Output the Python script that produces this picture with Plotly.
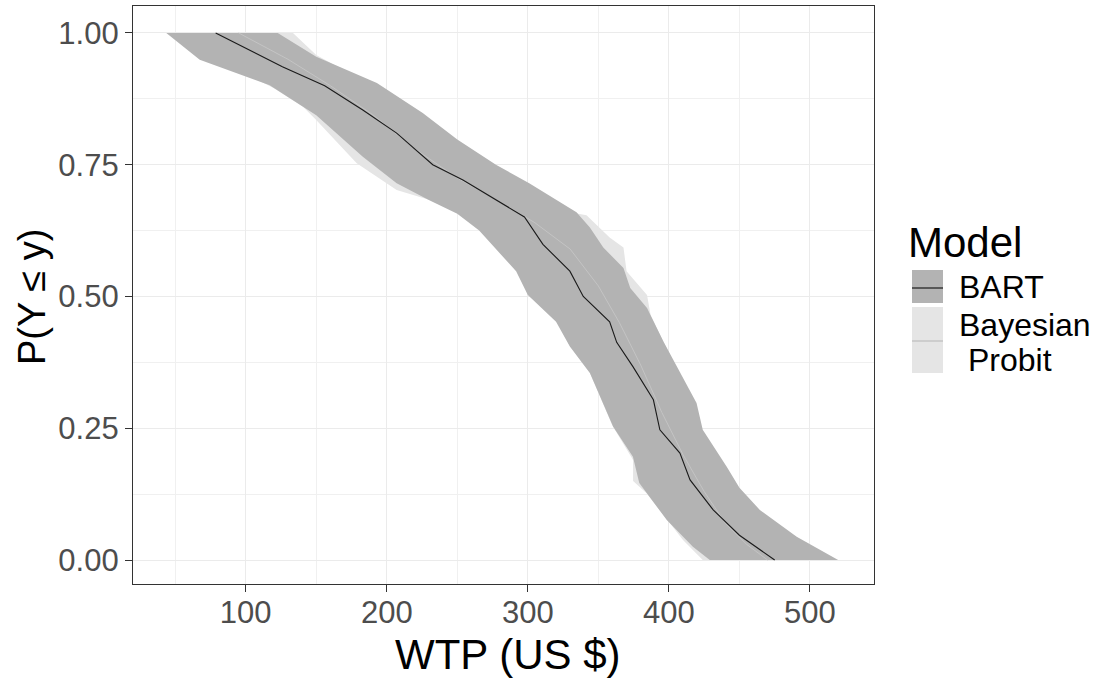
import plotly.graph_objects as go

# ---------------- data ----------------
# BART posterior CDF band: lower (left) edge and upper (right) edge
bart_lo_x = [43.7, 67.4, 117, 140.6, 150, 183, 207, 229.8, 250, 265.5, 291.7, 300, 320, 329.8, 344, 360.5, 374.5, 379, 398.5, 417, 429]
bart_lo_y = [1.0, 0.949, 0.901, 0.86, 0.844, 0.765, 0.715, 0.683, 0.657, 0.625, 0.548, 0.503, 0.452, 0.405, 0.355, 0.253, 0.196, 0.146, 0.076, 0.025, 0.0]
bart_hi_x = [122.7, 150, 193, 225.5, 250, 277.4, 301, 334.5, 344, 353.5, 367.8, 372.6, 384.5, 396.4, 419.6, 424, 441, 450, 464.5, 490.6, 520]
bart_hi_y = [1.0, 0.955, 0.905, 0.848, 0.798, 0.75, 0.715, 0.66, 0.631, 0.593, 0.554, 0.516, 0.478, 0.413, 0.298, 0.247, 0.177, 0.137, 0.095, 0.044, 0.0]
# BART posterior mean CDF
bart_x = [78.7, 126, 156, 183, 207, 232.6, 254, 279.8, 297.6, 310.7, 329.8, 339.3, 358, 363, 374.5, 389, 393.6, 407.8, 415, 431.4, 450, 475]
bart_y = [1.0, 0.936, 0.9, 0.854, 0.81, 0.75, 0.721, 0.68, 0.651, 0.599, 0.548, 0.5, 0.452, 0.413, 0.367, 0.304, 0.247, 0.203, 0.152, 0.095, 0.047, 0.0]

# Bayesian Probit band
prob_lo_x = [50, 80, 120, 140.6, 150, 178.7, 207, 230.5, 250, 265, 292, 300, 320, 330, 344, 360, 374.6, 374.6, 384, 410, 424]
prob_lo_y = [1.0, 0.95, 0.895, 0.86, 0.835, 0.753, 0.702, 0.683, 0.66, 0.63, 0.555, 0.51, 0.455, 0.405, 0.355, 0.255, 0.19, 0.15, 0.127, 0.038, 0.0]
prob_hi_x = [133.5, 150, 190, 225, 250, 280, 305, 330, 341.6, 358, 367.8, 370, 384.5, 387, 395, 418, 423, 438, 448, 462, 488, 515]
prob_hi_y = [1.0, 0.958, 0.9, 0.843, 0.79, 0.738, 0.703, 0.66, 0.654, 0.612, 0.593, 0.548, 0.503, 0.465, 0.42, 0.30, 0.25, 0.18, 0.14, 0.095, 0.044, 0.0]
# Bayesian Probit mean CDF
prob_x = [95, 130, 160, 190, 220, 250, 280, 305, 330, 350, 365, 380, 395, 410, 425, 440, 455, 470]
prob_y = [1.0, 0.95, 0.9, 0.845, 0.78, 0.725, 0.68, 0.64, 0.59, 0.52, 0.45, 0.37, 0.28, 0.2, 0.13, 0.07, 0.03, 0.0]

x_ticks = [100, 200, 300, 400, 500]
y_ticks = [0.0, 0.25, 0.5, 0.75, 1.0]
y_ticklabels = ["0.00", "0.25", "0.50", "0.75", "1.00"]

legend_title = "Model"
legend_labels = ["BART", "Bayesian", " Probit"]

# ---------------- styling ----------------
BART_FILL = "#b3b3b3"
PROB_FILL = "#e5e5e5"
FONT = "Liberation Sans, Arial, sans-serif"
W, H = 1104, 681
PL, PR, PT, PB = 133, 874, 6, 584  # panel pixel box


def px2paper_x(px):
    return (px - PL) / (PR - PL)


def px2paper_y(py):
    return (PB - py) / (PB - PT)


fig = go.Figure()

# Probit band (drawn first, lighter)
fig.add_trace(go.Scatter(
    x=prob_lo_x + prob_hi_x[::-1], y=prob_lo_y + prob_hi_y[::-1],
    fill="toself", fillcolor=PROB_FILL, line=dict(width=0), mode="lines",
    hoverinfo="skip", showlegend=False))
# BART band
fig.add_trace(go.Scatter(
    x=bart_lo_x + bart_hi_x[::-1], y=bart_lo_y + bart_hi_y[::-1],
    fill="toself", fillcolor=BART_FILL, line=dict(width=0), mode="lines",
    hoverinfo="skip", showlegend=False))
# Probit line
fig.add_trace(go.Scatter(x=prob_x, y=prob_y, mode="lines",
                         line=dict(color="#c4c4c4", width=1), showlegend=False))
# BART line
fig.add_trace(go.Scatter(x=bart_x, y=bart_y, mode="lines",
                         line=dict(color="#1a1a1a", width=1.1), showlegend=False))

axis_common = dict(
    showline=True, mirror=True, linecolor="#333333", linewidth=1.2,
    ticks="outside", ticklen=7, tickwidth=1.2, tickcolor="#333333",
    showgrid=True, gridcolor="#ebebeb", gridwidth=1.2, zeroline=False,
    tickfont=dict(family=FONT, size=31, color="#4d4d4d"),
)

fig.update_xaxes(
    range=[20.1, 545.4], tickmode="array", tickvals=x_ticks, ticklabelstandoff=-6,
    minor=dict(tickmode="array", tickvals=[50, 150, 250, 350, 450],
               showgrid=True, gridcolor="#f0f0f0", gridwidth=0.6, ticks=""),
    **axis_common)
fig.update_yaxes(
    range=[-0.0455, 1.0512], tickmode="array", tickvals=y_ticks, ticktext=y_ticklabels,
    minor=dict(tickmode="array", tickvals=[0.125, 0.375, 0.625, 0.875],
               showgrid=True, gridcolor="#f0f0f0", gridwidth=0.6, ticks=""),
    **axis_common)

annotations = [
    dict(text="WTP (US $)", xref="paper", yref="paper",
         x=px2paper_x(508), y=px2paper_y(654), xanchor="center", yanchor="middle",
         showarrow=False, font=dict(family=FONT, size=42, color="black")),
    dict(text="P(Y \u2264 y)", xref="paper", yref="paper", textangle=-90,
         x=px2paper_x(32), y=px2paper_y(297), xanchor="center", yanchor="middle",
         showarrow=False, font=dict(family=FONT, size=38, color="black")),
    dict(text=legend_title, xref="paper", yref="paper",
         x=px2paper_x(906), y=px2paper_y(243), xanchor="left", yanchor="middle",
         showarrow=False, font=dict(family=FONT, size=42, color="black")),
    dict(text=legend_labels[0], xref="paper", yref="paper",
         x=px2paper_x(957), y=px2paper_y(287), xanchor="left", yanchor="middle",
         showarrow=False, font=dict(family=FONT, size=32, color="black")),
    dict(text=legend_labels[1], xref="paper", yref="paper",
         x=px2paper_x(957), y=px2paper_y(325), xanchor="left", yanchor="middle",
         showarrow=False, font=dict(family=FONT, size=32, color="black")),
    dict(text=legend_labels[2].strip(), xref="paper", yref="paper",
         x=px2paper_x(966), y=px2paper_y(360), xanchor="left", yanchor="middle",
         showarrow=False, font=dict(family=FONT, size=32, color="black")),
]

shapes = [
    # BART key
    dict(type="rect", xref="paper", yref="paper",
         x0=px2paper_x(912), x1=px2paper_x(943), y0=px2paper_y(303), y1=px2paper_y(270),
         fillcolor=BART_FILL, line=dict(width=0)),
    dict(type="line", xref="paper", yref="paper",
         x0=px2paper_x(912), x1=px2paper_x(943), y0=px2paper_y(288), y1=px2paper_y(288),
         line=dict(color="#1a1a1a", width=1.2)),
    # Probit key
    dict(type="rect", xref="paper", yref="paper",
         x0=px2paper_x(912), x1=px2paper_x(943), y0=px2paper_y(373), y1=px2paper_y(307),
         fillcolor=PROB_FILL, line=dict(width=0)),
    dict(type="line", xref="paper", yref="paper",
         x0=px2paper_x(912), x1=px2paper_x(943), y0=px2paper_y(341), y1=px2paper_y(341),
         line=dict(color="#bdbdbd", width=1.2)),
]

fig.update_layout(
    width=W, height=H,
    margin=dict(l=PL, r=W - PR, t=PT, b=H - PB),
    paper_bgcolor="white", plot_bgcolor="white",
    showlegend=False,
    annotations=annotations, shapes=shapes,
    font=dict(family=FONT),
)

fig.write_html("out.html")
